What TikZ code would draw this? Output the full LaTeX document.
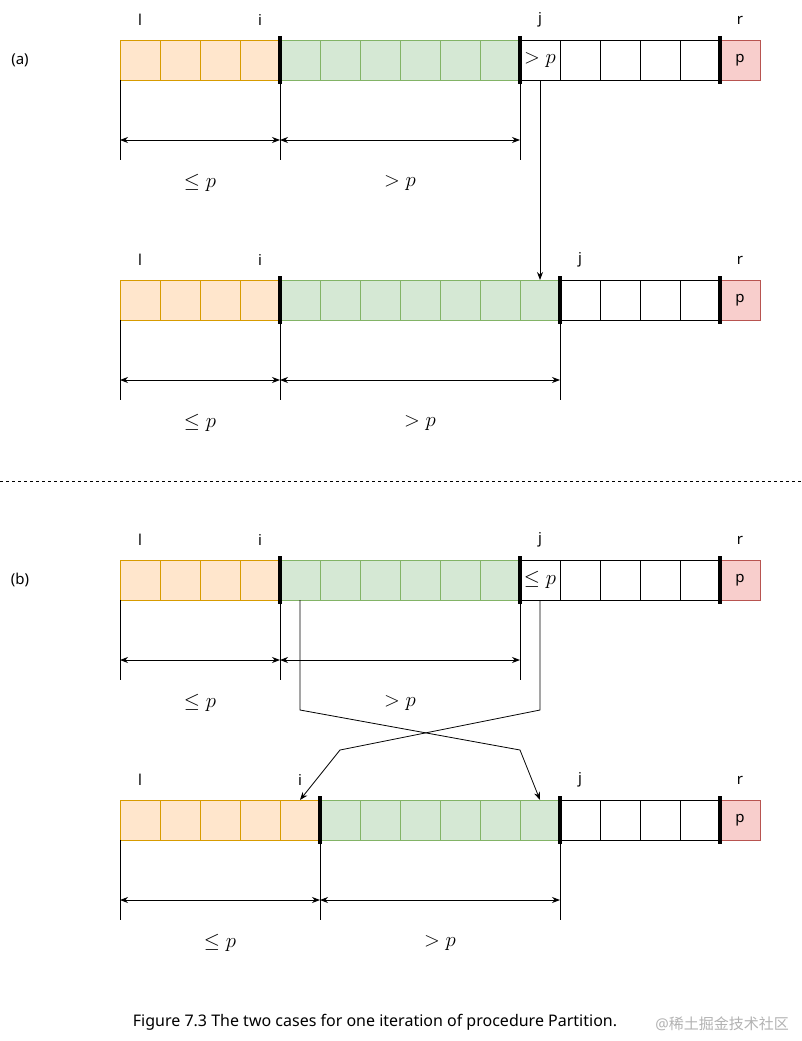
\documentclass[tikz,border=0pt]{standalone}
\usepackage{fontspec}
\setmainfont{Noto Sans}
\newfontfamily\cjkfont{Noto Sans CJK SC}
\usetikzlibrary{arrows.meta}
\definecolor{cOfill}{HTML}{FFE6CC}
\definecolor{cOline}{HTML}{D79B00}
\definecolor{cGfill}{HTML}{D5E8D4}
\definecolor{cGline}{HTML}{82B366}
\definecolor{cRfill}{HTML}{F8CECC}
\definecolor{cRline}{HTML}{B85450}

\begin{document}
\begin{tikzpicture}[
  x=1pt, y=-1pt,
  font=\fontsize{15}{18}\selectfont,
  >={Stealth[length=8pt, width=6pt]},
  cell/.style={draw, minimum size=40pt, inner sep=0pt, outer sep=0pt,
               anchor=north west, line width=0.8pt},
  lo/.style={cell, fill=cOfill, draw=cOline},
  hi/.style={cell, fill=cGfill, draw=cGline},
  un/.style={cell, fill=white, draw=black},
  piv/.style={cell, fill=cRfill, draw=cRline},
  bar/.style={line width=4pt},
  ext/.style={line width=0.8pt},
  dim/.style={<->, line width=0.8pt},
  mth/.style={font=\fontsize{22}{26}\selectfont},
  idx/.style={yshift=20pt},
  ]
\useasboundingbox (0,0) rectangle (802,1041);

% (a), before
\node (capA) at (20,60) {(a)};
\foreach \k in {0,...,3} \node[lo] (A\k) at ({120+40*\k},40) {};
\foreach \k in {4,...,9} \node[hi] (A\k) at ({120+40*\k},40) {};
\foreach \k in {10,...,14} \node[un] (A\k) at ({120+40*\k},40) {};
\node[piv] (A15) at (720,40) {p};
\node[mth] (Agt) at (A10) {$>p$};
\draw[bar] ([yshift=4pt]A4.north west) -- ([yshift=-4pt]A4.south west);
\draw[bar] ([yshift=4pt]A10.north west) -- ([yshift=-4pt]A10.south west);
\draw[bar] ([yshift=4pt]A15.north west) -- ([yshift=-4pt]A15.south west);
\node[idx] (Al) at (A0.north) {l};
\node[idx] (Ai) at (A3.north) {i};
\node[idx] (Aj) at (A10.north) {j};
\node[idx] (Ar) at (A15.north) {r};
\draw[ext] (A0.south west) -- ++(0,80);
\draw[ext] (A4.south west) -- ++(0,80);
\draw[ext] (A10.south west) -- ++(0,80);
\coordinate (Ad0) at ([yshift=-60pt]A0.south west);
\coordinate (Ad1) at ([yshift=-60pt]A4.south west);
\coordinate (Ad2) at ([yshift=-60pt]A10.south west);
\draw[dim] (Ad0) -- node[mth, yshift=-43pt] (Alo) {$\leq p$} (Ad1);
\draw[dim] (Ad1) -- node[mth, yshift=-43pt] (Ahi) {$>p$} (Ad2);

% (a), after
\foreach \k in {0,...,3} \node[lo] (B\k) at ({120+40*\k},280) {};
\foreach \k in {4,...,10} \node[hi] (B\k) at ({120+40*\k},280) {};
\foreach \k in {11,...,14} \node[un] (B\k) at ({120+40*\k},280) {};
\node[piv] (B15) at (720,280) {p};
\draw[bar] ([yshift=4pt]B4.north west) -- ([yshift=-4pt]B4.south west);
\draw[bar] ([yshift=4pt]B11.north west) -- ([yshift=-4pt]B11.south west);
\draw[bar] ([yshift=4pt]B15.north west) -- ([yshift=-4pt]B15.south west);
\node[idx] (Bl) at (B0.north) {l};
\node[idx] (Bi) at (B3.north) {i};
\node[idx] (Bj) at (B11.north) {j};
\node[idx] (Br) at (B15.north) {r};
\draw[ext] (B0.south west) -- ++(0,80);
\draw[ext] (B4.south west) -- ++(0,80);
\draw[ext] (B11.south west) -- ++(0,80);
\coordinate (Bd0) at ([yshift=-60pt]B0.south west);
\coordinate (Bd1) at ([yshift=-60pt]B4.south west);
\coordinate (Bd2) at ([yshift=-60pt]B11.south west);
\draw[dim] (Bd0) -- node[mth, yshift=-43pt] (Blo) {$\leq p$} (Bd1);
\draw[dim] (Bd1) -- node[mth, yshift=-43pt] (Bhi) {$>p$} (Bd2);

\draw[->, ext] (A10.south) -- (B10.north);

\coordinate (sepL) at (0,481);
\coordinate (sepR) at (802,481);
\draw[dashed, line width=0.6pt] (sepL) -- (sepR);

% (b), before
\node (capB) at (20,580) {(b)};
\foreach \k in {0,...,3} \node[lo] (C\k) at ({120+40*\k},560) {};
\foreach \k in {4,...,9} \node[hi] (C\k) at ({120+40*\k},560) {};
\foreach \k in {10,...,14} \node[un] (C\k) at ({120+40*\k},560) {};
\node[piv] (C15) at (720,560) {p};
\node[mth] (Cle) at (C10) {$\leq p$};
\draw[bar] ([yshift=4pt]C4.north west) -- ([yshift=-4pt]C4.south west);
\draw[bar] ([yshift=4pt]C10.north west) -- ([yshift=-4pt]C10.south west);
\draw[bar] ([yshift=4pt]C15.north west) -- ([yshift=-4pt]C15.south west);
\node[idx] (Cl) at (C0.north) {l};
\node[idx] (Ci) at (C3.north) {i};
\node[idx] (Cj) at (C10.north) {j};
\node[idx] (Cr) at (C15.north) {r};
\draw[ext] (C0.south west) -- ++(0,80);
\draw[ext] (C4.south west) -- ++(0,80);
\draw[ext] (C10.south west) -- ++(0,80);
\coordinate (Cd0) at ([yshift=-60pt]C0.south west);
\coordinate (Cd1) at ([yshift=-60pt]C4.south west);
\coordinate (Cd2) at ([yshift=-60pt]C10.south west);
\draw[dim] (Cd0) -- node[mth, yshift=-43pt] (Clo) {$\leq p$} (Cd1);
\draw[dim] (Cd1) -- node[mth, yshift=-43pt] (Chi) {$>p$} (Cd2);

% (b), after
\foreach \k in {0,...,4} \node[lo] (D\k) at ({120+40*\k},800) {};
\foreach \k in {5,...,10} \node[hi] (D\k) at ({120+40*\k},800) {};
\foreach \k in {11,...,14} \node[un] (D\k) at ({120+40*\k},800) {};
\node[piv] (D15) at (720,800) {p};
\draw[bar] ([yshift=4pt]D5.north west) -- ([yshift=-4pt]D5.south west);
\draw[bar] ([yshift=4pt]D11.north west) -- ([yshift=-4pt]D11.south west);
\draw[bar] ([yshift=4pt]D15.north west) -- ([yshift=-4pt]D15.south west);
\node[idx] (Dl) at (D0.north) {l};
\node[idx] (Di) at (D4.north) {i};
\node[idx] (Dj) at (D11.north) {j};
\node[idx] (Dr) at (D15.north) {r};
\draw[ext] (D0.south west) -- ++(0,80);
\draw[ext] (D5.south west) -- ++(0,80);
\draw[ext] (D11.south west) -- ++(0,80);
\coordinate (Dd0) at ([yshift=-60pt]D0.south west);
\coordinate (Dd1) at ([yshift=-60pt]D5.south west);
\coordinate (Dd2) at ([yshift=-60pt]D11.south west);
\draw[dim] (Dd0) -- node[mth, yshift=-43pt] (Dlo) {$\leq p$} (Dd1);
\draw[dim] (Dd1) -- node[mth, yshift=-43pt] (Dhi) {$>p$} (Dd2);

% swap
\draw[->, ext] (C4.south) -- ++(0,110) -- ++(220,40) -- (D10.north);
\draw[->, ext] (C10.south) -- ++(0,110) -- ++(-200,40) -- (D4.north);

\node[font=\fontsize{16}{19}\selectfont] (fig) at (375,1022) {Figure 7.3 The two cases for one iteration of procedure Partition.};
\node[text=black!30, font=\fontsize{15}{18}\selectfont] (wm) at (722,1024) {@{\cjkfont 稀土掘金技术社区}};
\end{tikzpicture}
\end{document}
